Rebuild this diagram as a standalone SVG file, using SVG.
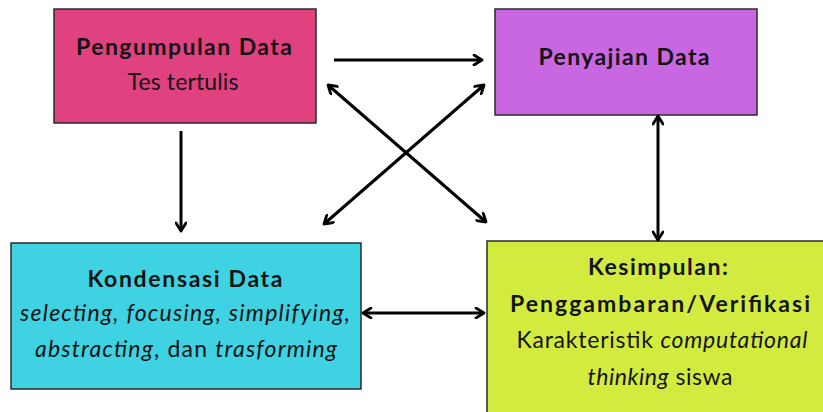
<svg xmlns="http://www.w3.org/2000/svg" width="823" height="412" viewBox="0 0 823 412">
  <style>
    .box { stroke: #2a2a2a; stroke-width: 1.5; }
    .t { font-family: Lato, "Open Sans", sans-serif; fill: #141414; text-anchor: middle; font-size: 23px; }
    .b { font-weight: 700; }
    .r { font-weight: 400; }
    .i { font-style: italic; }
    .ln { stroke: #000; stroke-width: 3; fill: none; }
  </style>
  <defs>
    <marker id="head" viewBox="0 0 12 12" refX="10" refY="6" markerWidth="12" markerHeight="12" markerUnits="userSpaceOnUse" orient="auto-start-reverse">
      <path d="M2,1 L10,6 L2,11" fill="none" stroke="#000" stroke-width="2.8" stroke-linecap="round" stroke-linejoin="round"/>
    </marker>
  </defs>
  <rect width="823" height="412" fill="#fff"/>

  <g id="pengumpulan">
    <rect class="box" x="54" y="9" width="262" height="114" fill="#E0417F"/>
    <text class="t b" x="184" y="55" textLength="216">Pengumpulan Data</text>
    <text class="t r" x="183" y="90" textLength="111">Tes tertulis</text>
  </g>

  <g id="penyajian">
    <rect class="box" x="495" y="9" width="262" height="106" fill="#C967E3"/>
    <text class="t b" x="624" y="65" textLength="171">Penyajian Data</text>
  </g>

  <g id="kondensasi">
    <rect class="box" x="11" y="243" width="350" height="146" fill="#3ED2E2"/>
    <text class="t b" x="185" y="287" textLength="195">Kondensasi Data</text>
    <text class="t r i" x="185" y="321" textLength="330">selecting, focusing, simplifying,</text>
    <text class="t r" x="186" y="357" textLength="302"><tspan class="i">abstracting</tspan>, dan <tspan class="i">trasforming</tspan></text>
  </g>

  <g id="kesimpulan">
    <rect class="box" x="487" y="241" width="340" height="180" fill="#D3EB3F"/>
    <text class="t b" x="658" y="275" textLength="140">Kesimpulan:</text>
    <text class="t b" x="660" y="312" textLength="300">Penggambaran/Verifikasi</text>
    <text class="t r" x="662" y="348" textLength="291">Karakteristik <tspan class="i">computational</tspan></text>
    <text class="t r" x="660" y="385" textLength="145"><tspan class="i">thinking</tspan> siswa</text>
  </g>

  <g id="connectors">
    <line class="ln" x1="334" y1="60" x2="482" y2="60" marker-end="url(#head)"/>
    <line class="ln" x1="181" y1="131" x2="181" y2="231" marker-end="url(#head)"/>
    <line class="ln" x1="328" y1="85" x2="486" y2="222" marker-start="url(#head)" marker-end="url(#head)"/>
    <line class="ln" x1="484" y1="85" x2="324" y2="224" marker-start="url(#head)" marker-end="url(#head)"/>
    <line class="ln" x1="658" y1="116" x2="658" y2="240" marker-start="url(#head)" marker-end="url(#head)"/>
    <line class="ln" x1="363" y1="313" x2="484" y2="313" marker-start="url(#head)" marker-end="url(#head)"/>
  </g>
</svg>
